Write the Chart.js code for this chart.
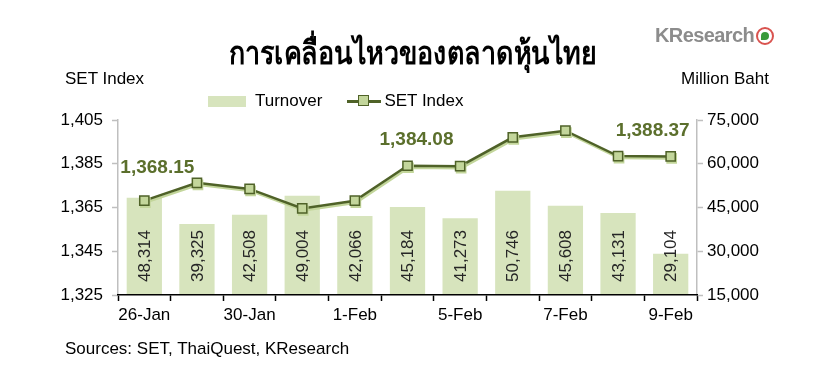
<!DOCTYPE html>
<html>
<head>
<meta charset="utf-8">
<script src="https://cdn.jsdelivr.net/npm/chart.js@4.4.1/dist/chart.umd.min.js"></script>
<style>
  html, body { margin: 0; padding: 0; background: #fff; }
  body { width: 826px; height: 383px; position: relative; overflow: hidden; font-family: "Liberation Sans", Arial, sans-serif; color: #000; }
  #chart { position: absolute; left: 0; top: 0; }
  .abs { position: absolute; white-space: nowrap; }
  #title { left: 0; width: 826px; top: 27px; text-align: center; font-size: 32px; font-weight: bold; transform: scaleX(0.84); }
  #logo { left: 655px; top: 24px; font-size: 20px; font-weight: bold; color: #8c8c8c; letter-spacing: -0.6px; }
  #logo .mark { display: inline-block; width: 14px; height: 14px; border: 2px solid #d9534f; border-radius: 50%; vertical-align: -3px; margin-left: 2px; position: relative; }
  #logo .mark::after { content: ""; position: absolute; left: 3px; top: 3px; width: 8px; height: 8px; border-radius: 50% 50% 50% 0; background: #3a9a3a; }
  .axtitle { top: 69px; font-size: 17px; }
  #legend { top: 91px; left: 208px; font-size: 17px; display: flex; align-items: center; }
  #legend .box { display: inline-block; width: 38px; height: 11px; background: #d7e4bd; margin-right: 9px; }
  #legend .ln { display: inline-block; position: relative; width: 34px; height: 12px; margin: 0 3px 0 25px; }
  #legend .ln::before { content: ""; position: absolute; left: 0; right: 0; top: 5px; height: 3px; background: #4f6228; }
  #legend .ln::after { content: ""; position: absolute; left: 11px; top: 0; width: 9px; height: 9px; background: #c3d69b; border: 1.5px solid #4f6228; }
  #src { left: 65px; top: 339px; font-size: 17px; }
</style>
</head>
<body>
<canvas id="chart" width="826" height="383"></canvas>
<div class="abs" id="title">การเคลื่อนไหวของตลาดหุ้นไทย</div>
<div class="abs" id="logo">KResearch<span class="mark"></span></div>
<div class="abs axtitle" style="left:65px">SET Index</div>
<div class="abs axtitle" style="left:681px">Million Baht</div>
<div class="abs" id="legend"><span class="box"></span>Turnover<span class="ln"></span>SET Index</div>
<div class="abs" id="src">Sources: SET, ThaiQuest, KResearch</div>
<script>
// ===== data =====
const DATES = ['26-Jan', '29-Jan', '30-Jan', '31-Jan', '1-Feb', '2-Feb', '5-Feb', '6-Feb', '7-Feb', '8-Feb', '9-Feb'];
const TURNOVER = [48314, 39325, 42508, 49004, 42066, 45184, 41273, 50746, 45608, 43131, 29104];
const SET_INDEX = [1368.15, 1376.3, 1373.5, 1364.6, 1368.1, 1384.08, 1383.9, 1397.1, 1400.1, 1388.5, 1388.37];
const SHOWN_DATES = ['26-Jan', '30-Jan', '1-Feb', '5-Feb', '7-Feb', '9-Feb'];
const CALLOUTS = [0, 5, 10]; // points with a value label

const FONT = '"Liberation Sans", Arial, sans-serif';
const OLIVE = '#4f6228';

// rotated values inside the bars
const barLabels = {
  id: 'barLabels',
  afterDatasetsDraw(chart) {
    const { ctx, chartArea } = chart;
    const meta = chart.getDatasetMeta(0);
    ctx.save();
    ctx.font = '17px ' + FONT;
    ctx.fillStyle = '#262626';
    ctx.textAlign = 'left';
    ctx.textBaseline = 'middle';
    meta.data.forEach((bar, i) => {
      ctx.save();
      ctx.translate(bar.x + 1, chartArea.bottom - 13);
      ctx.rotate(-Math.PI / 2);
      ctx.fillText(TURNOVER[i].toLocaleString('en-US'), 0, 0);
      ctx.restore();
    });
    ctx.restore();
  },
};

// bold callouts over a few line points
const pointLabels = {
  id: 'pointLabels',
  afterDraw(chart, args, opts) {
    const { ctx } = chart;
    const meta = chart.getDatasetMeta(1);
    ctx.save();
    ctx.font = 'bold 19px ' + FONT;
    ctx.fillStyle = '#5b6f2c';
    ctx.textAlign = 'center';
    ctx.textBaseline = 'middle';
    CALLOUTS.forEach((i, k) => {
      const p = meta.data[i];
      const [dx, dy] = opts.offsets[k];
      const txt = SET_INDEX[i].toLocaleString('en-US', { minimumFractionDigits: 2, maximumFractionDigits: 2 });
      ctx.fillText(txt, p.x + dx, p.y + dy);
    });
    ctx.restore();
  },
};

// light under-stroke on the index line
const lineShadow = {
  id: 'lineShadow',
  beforeDatasetDraw(chart, args) {
    if (args.index !== 1) return;
    const { ctx } = chart;
    ctx.save();
    ctx.shadowColor = '#c3d69b';
    ctx.shadowOffsetX = 1;
    ctx.shadowOffsetY = 2;
    ctx.shadowBlur = 0;
  },
  afterDatasetDraw(chart, args) {
    if (args.index !== 1) return;
    chart.ctx.restore();
  },
};

new Chart(document.getElementById('chart'), {
  data: {
    labels: DATES,
    datasets: [
      {
        type: 'bar', label: 'Turnover', data: TURNOVER, yAxisID: 'y1',
        backgroundColor: '#d7e4bd', borderWidth: 0,
        barPercentage: 0.67, categoryPercentage: 1, order: 2,
      },
      {
        type: 'line', label: 'SET Index', data: SET_INDEX, yAxisID: 'y',
        borderColor: OLIVE, borderWidth: 2.5, tension: 0,
        pointStyle: 'rect', pointRadius: 6.5, pointHoverRadius: 6.5,
        pointBackgroundColor: '#c3d69b', pointBorderColor: OLIVE, pointBorderWidth: 1.5,
        order: 1,
      },
    ],
  },
  options: {
    responsive: false,
    animation: false,
    devicePixelRatio: 1,
    layout: { padding: { left: 40, right: 0, top: 120, bottom: 48 } },
    plugins: {
      legend: { display: false },
      tooltip: { enabled: false },
      pointLabels: { offsets: [[13, -33], [9, -26], [-18, -26]] },
    },
    scales: {
      x: {
        offset: true,
        grid: { offset: true, drawOnChartArea: false, drawTicks: true, tickLength: 6, tickColor: '#000', tickWidth: 1.5 },
        border: { display: true, color: '#000', width: 1.5, z: 2 },
        ticks: {
          autoSkip: false, maxRotation: 0, padding: 4,
          color: '#000', font: { family: FONT, size: 17 },
          callback(v) { const l = DATES[v]; return SHOWN_DATES.includes(l) ? l : ''; },
        },
        afterFit(s) { s.height = 40; },
      },
      y: {
        position: 'left', min: 1325, max: 1405,
        grid: { drawOnChartArea: false, tickLength: 6, tickColor: '#bfbfbf', tickWidth: 1.5 },
        border: { color: '#bfbfbf', width: 1.5 },
        ticks: {
          stepSize: 20, padding: 9, color: '#000', font: { family: FONT, size: 17 },
          callback: v => v.toLocaleString('en-US'),
        },
        afterFit(s) { s.width = 78; },
      },
      y1: {
        position: 'right', min: 15000, max: 75000,
        grid: { drawOnChartArea: false, tickLength: 6, tickColor: '#bfbfbf', tickWidth: 1.5 },
        border: { color: '#bfbfbf', width: 1.5 },
        ticks: {
          stepSize: 15000, padding: 4, color: '#000', font: { family: FONT, size: 17 },
          callback: v => v.toLocaleString('en-US'),
        },
        afterFit(s) { s.width = 129; },
      },
    },
  },
  plugins: [barLabels, pointLabels, lineShadow],
});
</script>
</body>
</html>
